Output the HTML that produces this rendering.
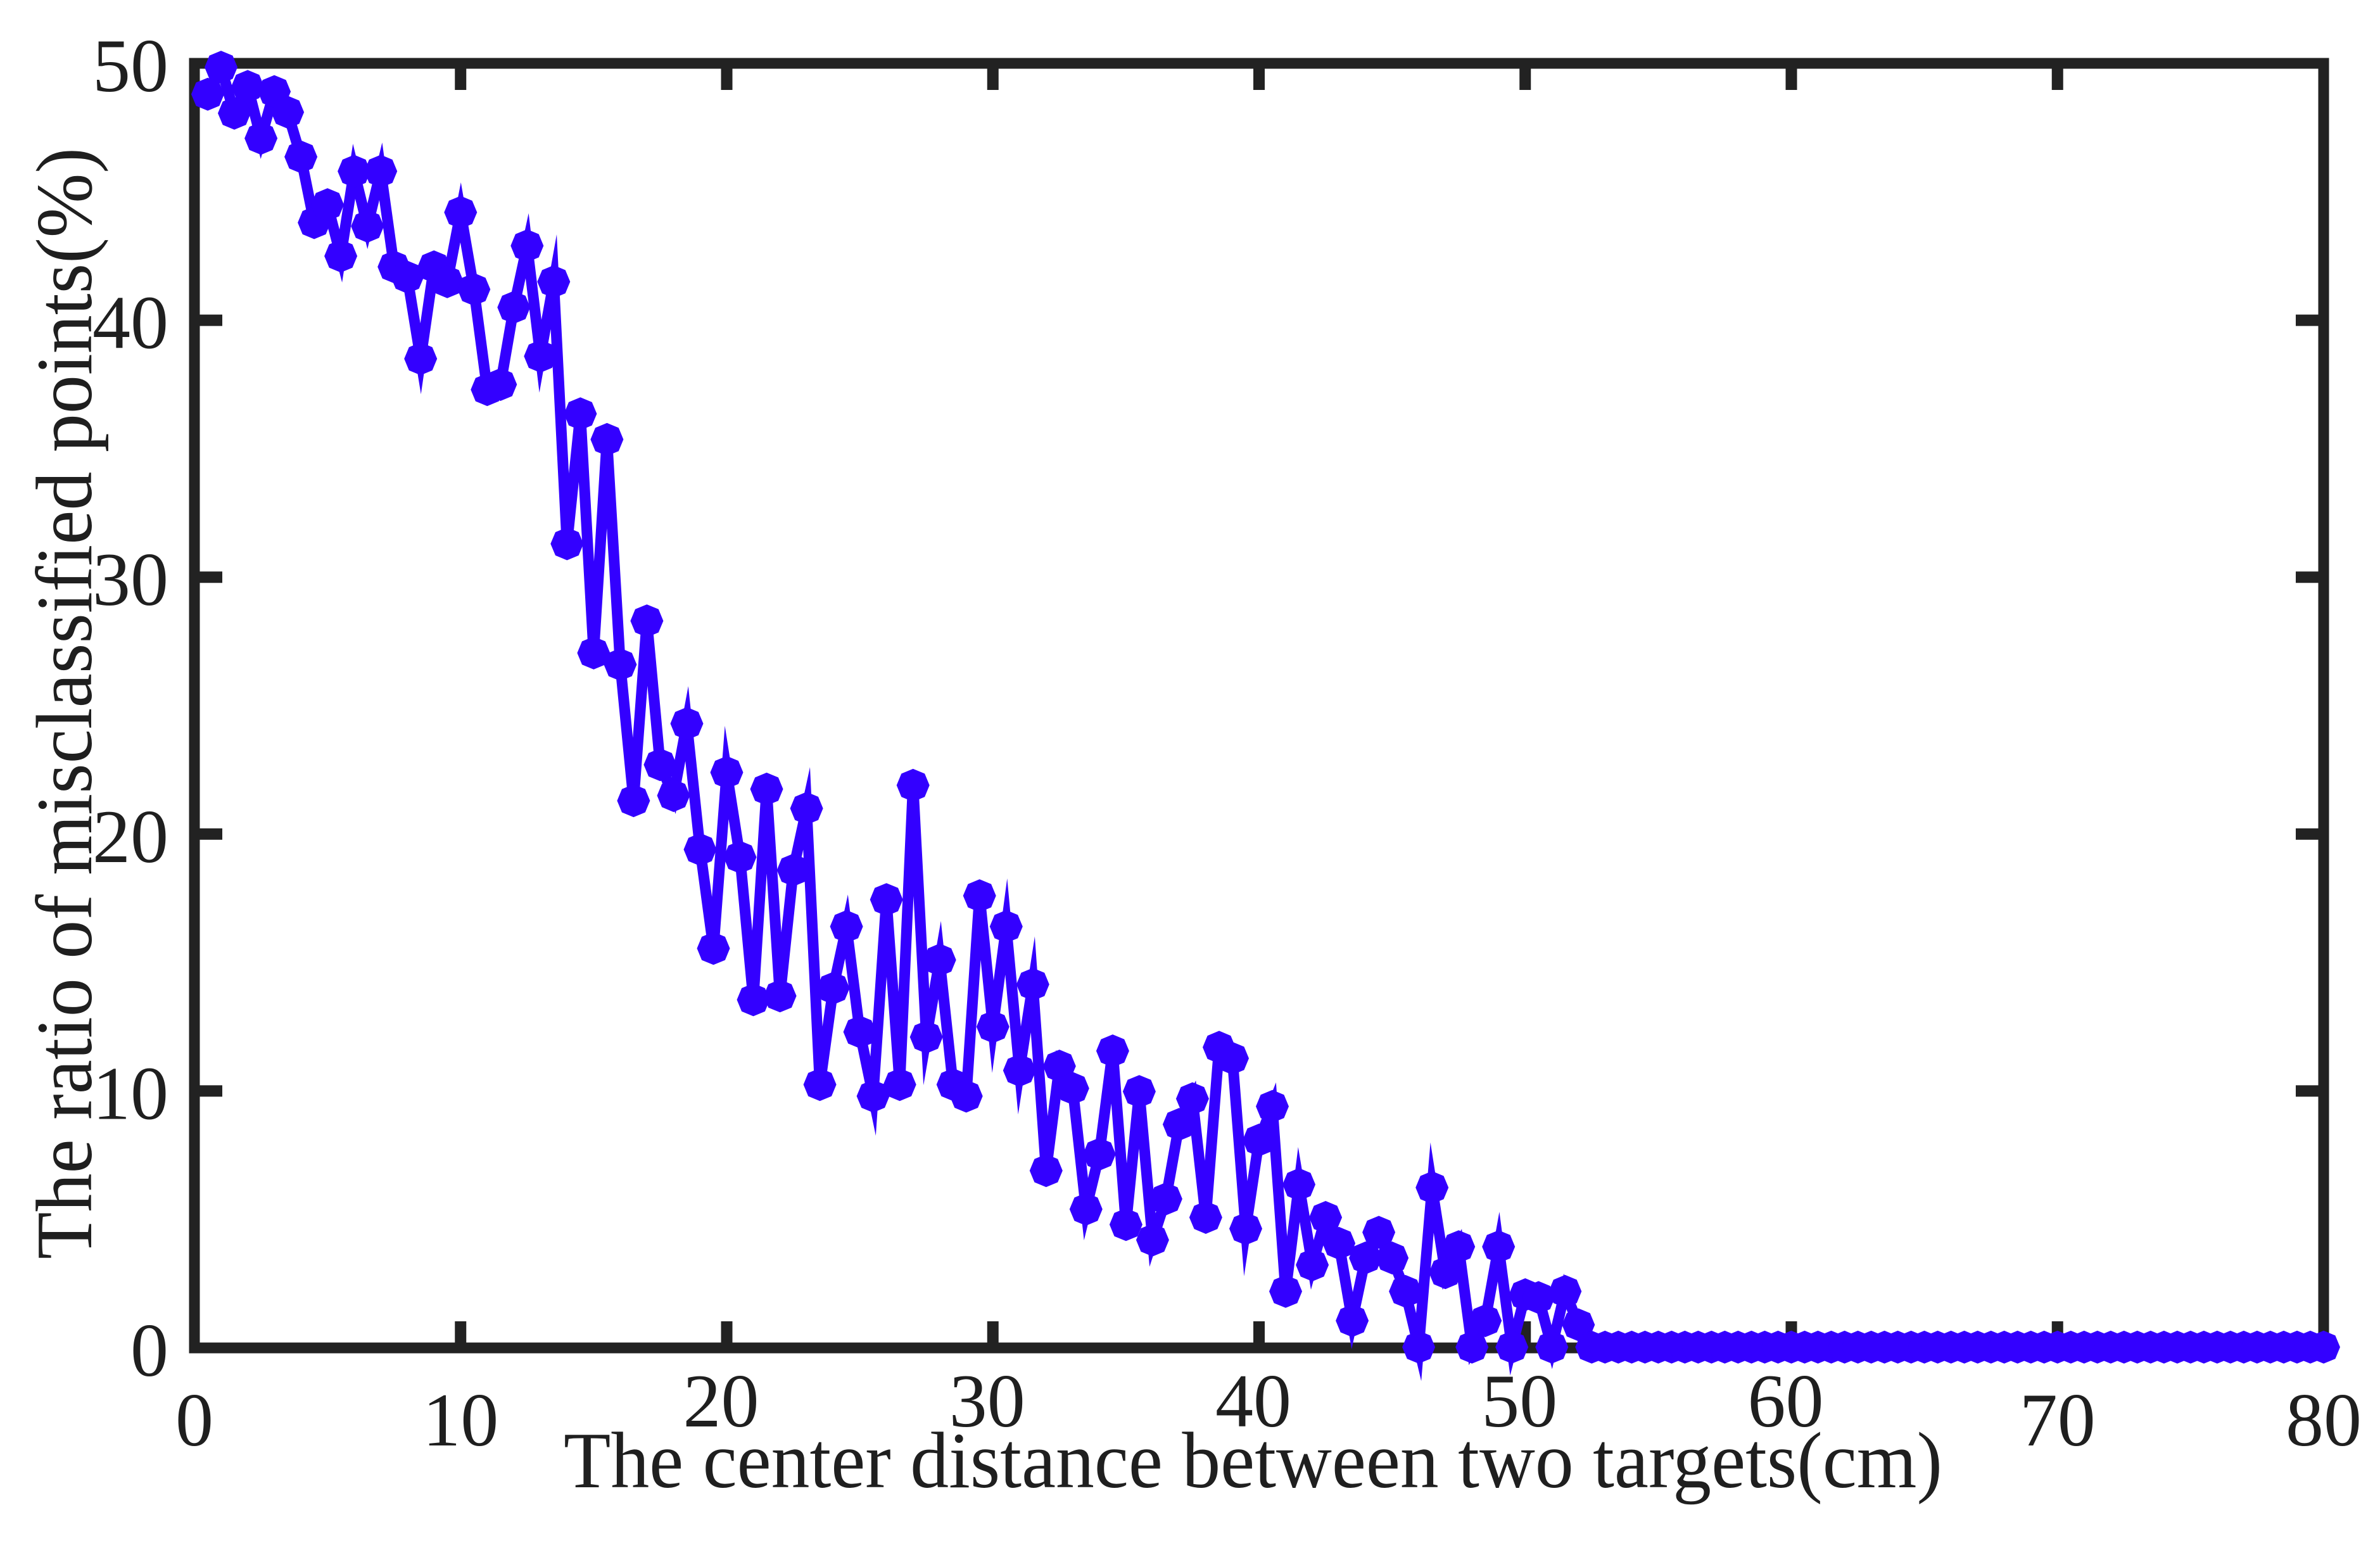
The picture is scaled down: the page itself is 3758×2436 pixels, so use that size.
<!DOCTYPE html>
<html lang="en">
<head>
<meta charset="utf-8">
<title>Misclassified points chart</title>
<style>
html,body{margin:0;padding:0;background:#fff;width:3758px;height:2436px;overflow:hidden}
svg{display:block}
text{font-family:"Liberation Serif",serif;fill:#1f1f1f}
</style>
</head>
<body>
<svg id="chart" xmlns="http://www.w3.org/2000/svg" width="3758" height="2436" viewBox="0 0 3758 2436">
  <rect x="0" y="0" width="3758" height="2436" fill="#ffffff"/>
  <g id="axes"></g>
  <g id="labels"></g>
  <text x="890" y="2348" font-size="126" textLength="2177" lengthAdjust="spacingAndGlyphs">The center distance between two targets(cm)</text>
  <text transform="translate(144,1988) rotate(-90)" font-size="126" textLength="1755" lengthAdjust="spacingAndGlyphs">The ratio of misclassified points(%)</text>
  <g id="series"></g>
</svg>
<script>
const distances = [
  0.5,1,1.5,2,2.5,3,3.5,4,4.5,5,5.5,6,6.5,7,7.5,8,8.5,9,9.5,10,
  10.5,11,11.5,12,12.5,13,13.5,14,14.5,15,15.5,16,16.5,17,17.5,18,18.5,19,19.5,20,
  20.5,21,21.5,22,22.5,23,23.5,24,24.5,25,25.5,26,26.5,27,27.5,28,28.5,29,29.5,30,
  30.5,31,31.5,32,32.5,33,33.5,34,34.5,35,35.5,36,36.5,37,37.5,38,38.5,39,39.5,40,
  40.5,41,41.5,42,42.5,43,43.5,44,44.5,45,45.5,46,46.5,47,47.5,48,48.5,49,49.5,50,
  50.5,51,51.5,52,52.5,53,53.5,54,54.5,55,55.5,56,56.5,57,57.5,58,58.5,59,59.5,60,
  60.5,61,61.5,62,62.5,63,63.5,64,64.5,65,65.5,66,66.5,67,67.5,68,68.5,69,69.5,70,
  70.5,71,71.5,72,72.5,73,73.5,74,74.5,75,75.5,76,76.5,77,77.5,78,78.5,79,79.5,80
];
const ratios = [
  48.8,49.85,48.06,49.1,47.08,48.9,48.1,46.36,43.8,44.5,
  42.5,45.8,43.66,45.8,42.08,41.68,38.5,42.08,41.5,44.2,
  41.2,37.3,37.5,40.5,42.9,38.6,41.5,31.3,36.36,27.05,
  35.36,26.6,21.3,28.3,22.7,21.5,24.3,19.4,15.55,22.4,
  19.1,13.55,21.75,13.7,18.6,21,10.25,14,16.4,12.3,
  9.8,17.45,10.25,21.9,12.1,15.1,10.25,9.8,17.6,12.5,
  16.4,10.8,14.15,6.9,10.97,10.1,5.4,7.54,11.56,4.8,
  9.98,4.2,5.8,8.7,9.7,5.08,11.7,11.27,4.64,8.09,
  9.4,2.2,6.36,3.23,5.08,4.07,1.06,3.5,4.5,3.5,
  2.2,0.03,6.24,2.93,3.94,0.03,1.06,3.94,0.03,2.07,
  1.96,0.03,2.2,0.9,0.03,0.03,0.03,0.03,0.03,0.03,
  0.03,0.03,0.03,0.03,0.03,0.03,0.03,0.03,0.03,0.03,
  0.03,0.03,0.03,0.03,0.03,0.03,0.03,0.03,0.03,0.03,
  0.03,0.03,0.03,0.03,0.03,0.03,0.03,0.03,0.03,0.03,
  0.03,0.03,0.03,0.03,0.03,0.03,0.03,0.03,0.03,0.03,
  0.03,0.03,0.03,0.03,0.03,0.03,0.03,0.03,0.03,0.03
];
const xTicks = [0,10,20,30,40,50,60,70,80];
const yTicks = [0,10,20,30,40,50];
const raisedXLabels = [20,30,40,50,60];

const NS = 'http://www.w3.org/2000/svg';
const X0 = 307, X1 = 3669, Y0 = 2128, Y1 = 100;
const BLUE = '#3300ff', INK = '#222222';
const xScale = v => X0 + (v / 80) * (X1 - X0);
const yScale = v => Y0 - (v / 50) * (Y0 - Y1);

function make(tag, attrs, parent) {
  const el = document.createElementNS(NS, tag);
  for (const k in attrs) el.setAttribute(k, attrs[k]);
  parent.appendChild(el);
  return el;
}

const axes = document.getElementById('axes');
const labels = document.getElementById('labels');
const series = document.getElementById('series');

const frame = make('rect', {x: X0, y: Y1, width: X1 - X0, height: Y0 - Y1, fill: 'none', stroke: INK, 'stroke-width': 17}, axes);



xTicks.forEach(t => {
  if (t === 0 || t === 80) {
    return;
  }
  const x = xScale(t);
  const low = make('line', {x1: x, x2: x, y1: Y0, y2: Y0 - 42, stroke: INK, 'stroke-width': 18}, axes);
  
  
  const high = make('line', {x1: x, x2: x, y1: Y1, y2: Y1 + 42, stroke: INK, 'stroke-width': 18}, axes);
  
  
});

yTicks.forEach(t => {
  if (t === 0 || t === 50) {
    return;
  }
  const y = yScale(t);
  const left = make('line', {x1: X0, x2: X0 + 44, y1: y, y2: y, stroke: INK, 'stroke-width': 18}, axes);
  
  
  const right = make('line', {x1: X1, x2: X1 - 44, y1: y, y2: y, stroke: INK, 'stroke-width': 18}, axes);
  
  
});

xTicks.forEach(t => {
  const raised = raisedXLabels.includes(t);
  const shift = raised ? -9 : 0;
  const label = make('text', {x: xScale(t) + shift, y: raised ? 2252 : 2282, 'font-size': 120, 'text-anchor': 'middle'}, labels);
  
  
  label.textContent = String(t);
});

yTicks.forEach(t => {
  const label = make('text', {x: 266, y: yScale(t) + 44, 'font-size': 120, 'text-anchor': 'end'}, labels);
  
  
  label.textContent = String(t);
});

const linePoints = distances.map((d, i) => xScale(d).toFixed(1) + ',' + yScale(ratios[i]).toFixed(1)).join(' ');
const seriesLine = make('polyline', {
  points: linePoints, fill: 'none', stroke: BLUE, 'stroke-width': 17,
  'stroke-linejoin': 'miter', 'stroke-miterlimit': 9
}, series);



const R = 26;
function marker(cx, cy) {
  const pts = [];
  for (let k = 0; k < 8; k++) {
    const a = k * Math.PI / 4;
    pts.push((cx + R * Math.cos(a)).toFixed(1) + ',' + (cy + R * Math.sin(a)).toFixed(1));
  }
  return pts.join(' ');
}
distances.forEach((d, i) => {
  const dot = make('polygon', {points: marker(xScale(d), yScale(ratios[i])), fill: BLUE}, series);
  
  
});
</script>
</body>
</html>
